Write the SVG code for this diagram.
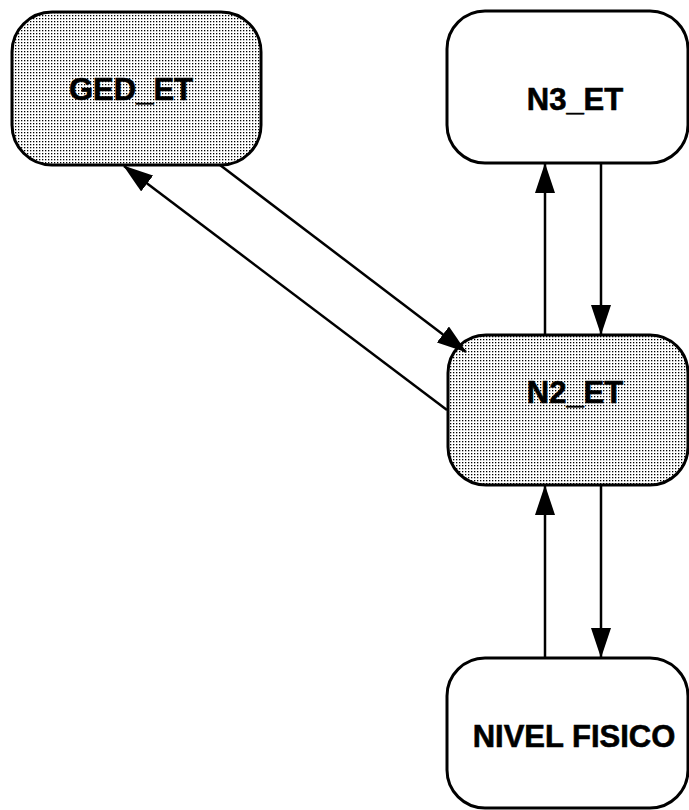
<svg xmlns="http://www.w3.org/2000/svg" width="689" height="810" viewBox="0 0 689 810">
<style>
.box{stroke:#000;stroke-width:3}
.dot{fill:url(#dots)}
.plain{fill:#fff}
.lbl{font-family:"Liberation Sans",Arial,sans-serif;font-weight:bold;font-size:31px;text-anchor:middle;fill:#000;stroke:#000;stroke-width:0.6}
.conn line{stroke:#000;stroke-width:2.5;marker-end:url(#ah)}
</style>
<defs>
<pattern id="dots" width="3" height="3" patternUnits="userSpaceOnUse">
<rect width="3" height="3" fill="#fff"/>
<rect width="1.3" height="1.3" fill="#000"/>
</pattern>
<marker id="ah" viewBox="0 0 30 20" refX="29" refY="10" markerWidth="30" markerHeight="20" markerUnits="userSpaceOnUse" orient="auto">
<path d="M0,0 L30,10 L0,20 z" fill="#000"/>
</marker>
</defs>
<rect width="689" height="810" fill="#fff"/>
<g id="GED_ET">
<rect class="box dot" x="12" y="12" width="249" height="153" rx="40" ry="40"/>
<text class="lbl" x="131" y="100">GED_ET</text>
</g>
<g id="N3_ET">
<rect class="box plain" x="447" y="11" width="241" height="152" rx="38" ry="38"/>
<text class="lbl" x="575" y="110">N3_ET</text>
</g>
<g id="N2_ET">
<rect class="box dot" x="448" y="335" width="240" height="150" rx="38" ry="38"/>
<text class="lbl" x="575" y="403">N2_ET</text>
</g>
<g id="NIVEL_FISICO">
<rect class="box plain" x="447" y="658" width="241" height="150" rx="38" ry="38"/>
<text class="lbl" x="574" y="747">NIVEL FISICO</text>
</g>
<g id="connectors" class="conn">
<line x1="220" y1="165" x2="466" y2="352"/>
<line x1="447" y1="410" x2="124" y2="166"/>
<line x1="545" y1="335" x2="545" y2="164"/>
<line x1="601" y1="163" x2="601" y2="334"/>
<line x1="545" y1="658" x2="545" y2="486"/>
<line x1="601" y1="485" x2="601" y2="657"/>
</g>
</svg>
